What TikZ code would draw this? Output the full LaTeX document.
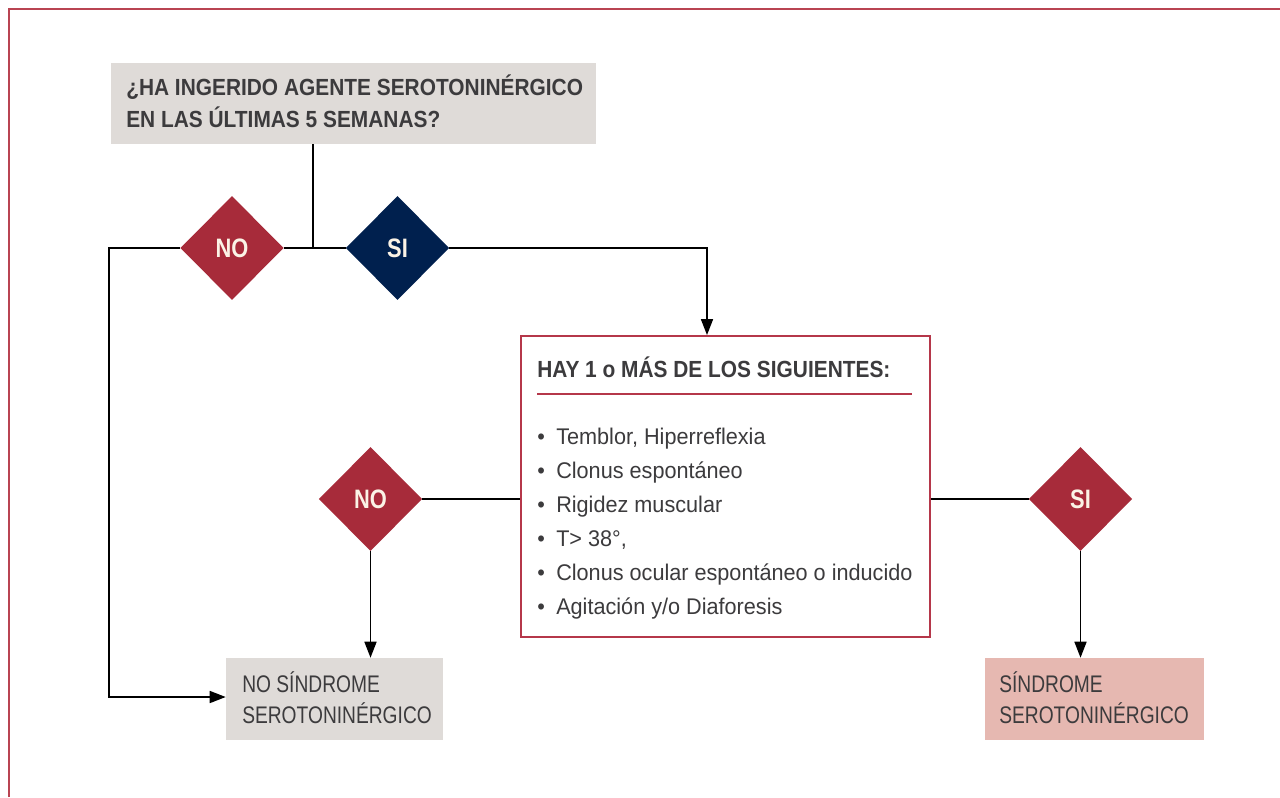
\documentclass[tikz,border=0pt]{standalone}
\usepackage{fontspec}
\setmainfont{Liberation Sans}[FakeStretch=0.82]
\newfontfamily\titf{Liberation Sans}[FakeStretch=0.895]
\newfontfamily\itemf{Liberation Sans}[FakeStretch=0.955]
\newfontfamily\outf{Liberation Sans}[FakeStretch=0.80]
\usetikzlibrary{shapes.geometric,arrows.meta}
\definecolor{framecol}{HTML}{B94452}
\definecolor{redd}{HTML}{A72B3A}
\definecolor{navy}{HTML}{00204E}
\definecolor{grayfill}{HTML}{DFDBD8}
\definecolor{pinkfill}{HTML}{E6B8B1}
\definecolor{boxred}{HTML}{B5374A}
\definecolor{txt}{HTML}{3C3B3D}
\definecolor{dtxt}{HTML}{FBF3E6}
\begin{document}
\begin{tikzpicture}[x=0.75pt,y=-0.75pt,
  frame/.style={draw=framecol,line width=1.5pt},
  fillbox/.style={rectangle,draw=none,inner sep=0pt},
  dia/.style={diamond,draw=none,inner sep=0pt,minimum width=77.5pt,minimum height=78pt,text=dtxt,font=\fontsize{20}{24}\selectfont\bfseries},
  tline/.style={anchor=base west,inner sep=0pt,text=txt,font=\titf\fontsize{17.5}{21}\selectfont\bfseries},
  bline/.style={anchor=base west,inner sep=0pt,text=txt,font=\itemf\fontsize{17}{21}\selectfont},
  oline/.style={anchor=base west,inner sep=0pt,text=txt,font=\outf\fontsize{18}{21}\selectfont},
  conn/.style={draw=black,line width=1.2pt},
  arr/.style={conn,-{Triangle[length=12pt,width=9pt]}}]
\useasboundingbox (0,0) rectangle (1280,797);
\fill[white] (0,0) rectangle (1280,797);
\draw[frame] (8.5,797) -- (8.5,8.5) -- (1280,8.5);
% top question
\node[fillbox,fill=grayfill,minimum width=363.75pt,minimum height=60.75pt] (q) at (353.5,103.5) {};
\node[tline] (q1) at (126,95) {¿HA INGERIDO AGENTE SEROTONINÉRGICO};
\node[tline] (q2) at (126,127) {EN LAS ÚLTIMAS 5 SEMANAS?};
% first diamonds
\node[dia,fill=redd] (no1) at (232,248) {NO};
\node[dia,fill=navy] (si1) at (397.5,248) {SI};
\coordinate (j1) at (313,248);
\coordinate (cL) at (109,697);
\coordinate (c2) at (707,248);
% middle box
\node[fillbox,draw=boxred,line width=1.4pt,fill=white,minimum width=306.75pt,minimum height=225.75pt] (box) at (725.5,486.5) {};
\node[tline] (h) at (537,377) {HAY 1 o MÁS DE LOS SIGUIENTES:};
\coordinate (r1) at (537,394);
\coordinate (r2) at (912,394);
\draw[draw=boxred,line width=1pt] (r1) -- (r2);
\node[bline] (i1) at (537,444) {\makebox[14.25pt][l]{•}Temblor, Hiperreflexia};
\node[bline] (i2) at (537,478) {\makebox[14.25pt][l]{•}Clonus espontáneo};
\node[bline] (i3) at (537,512) {\makebox[14.25pt][l]{•}Rigidez muscular};
\node[bline] (i4) at (537,546) {\makebox[14.25pt][l]{•}T> 38°,};
\node[bline] (i5) at (537,580) {\makebox[14.25pt][l]{•}Clonus ocular espontáneo o inducido};
\node[bline] (i6) at (537,614) {\makebox[14.25pt][l]{•}Agitación y/o Diaforesis};
% second diamonds
\node[dia,fill=redd] (no2) at (370.5,499) {NO};
\node[dia,fill=redd] (si2) at (1080.5,499) {SI};
% outcomes
\node[fillbox,fill=grayfill,minimum width=162.75pt,minimum height=61.5pt] (nos) at (334.5,699) {};
\node[oline] (n1) at (242,692) {NO SÍNDROME};
\node[oline] (n2) at (242,723) {SEROTONINÉRGICO};
\node[fillbox,fill=pinkfill,minimum width=164.25pt,minimum height=61.5pt] (ss) at (1094.5,699) {};
\node[oline] (s1) at (999,692) {SÍNDROME};
\node[oline] (s2) at (999,723) {SEROTONINÉRGICO};
% connectors
\draw[conn] (q.south -| j1) -- (j1);
\draw[conn] (no1.east) -- (si1.west);
\draw[arr] (no1.west) -| (cL) -- (nos.west |- cL);
\draw[arr] (si1.east) -- (c2) -- (c2 |- box.north);
\draw[conn] (box.west |- no2) -- (no2.east);
\draw[arr] (no2.south) -- (nos.north -| no2);
\draw[conn] (box.east |- si2) -- (si2.west);
\draw[arr] (si2.south) -- (ss.north -| si2);
\end{tikzpicture}
\end{document}
